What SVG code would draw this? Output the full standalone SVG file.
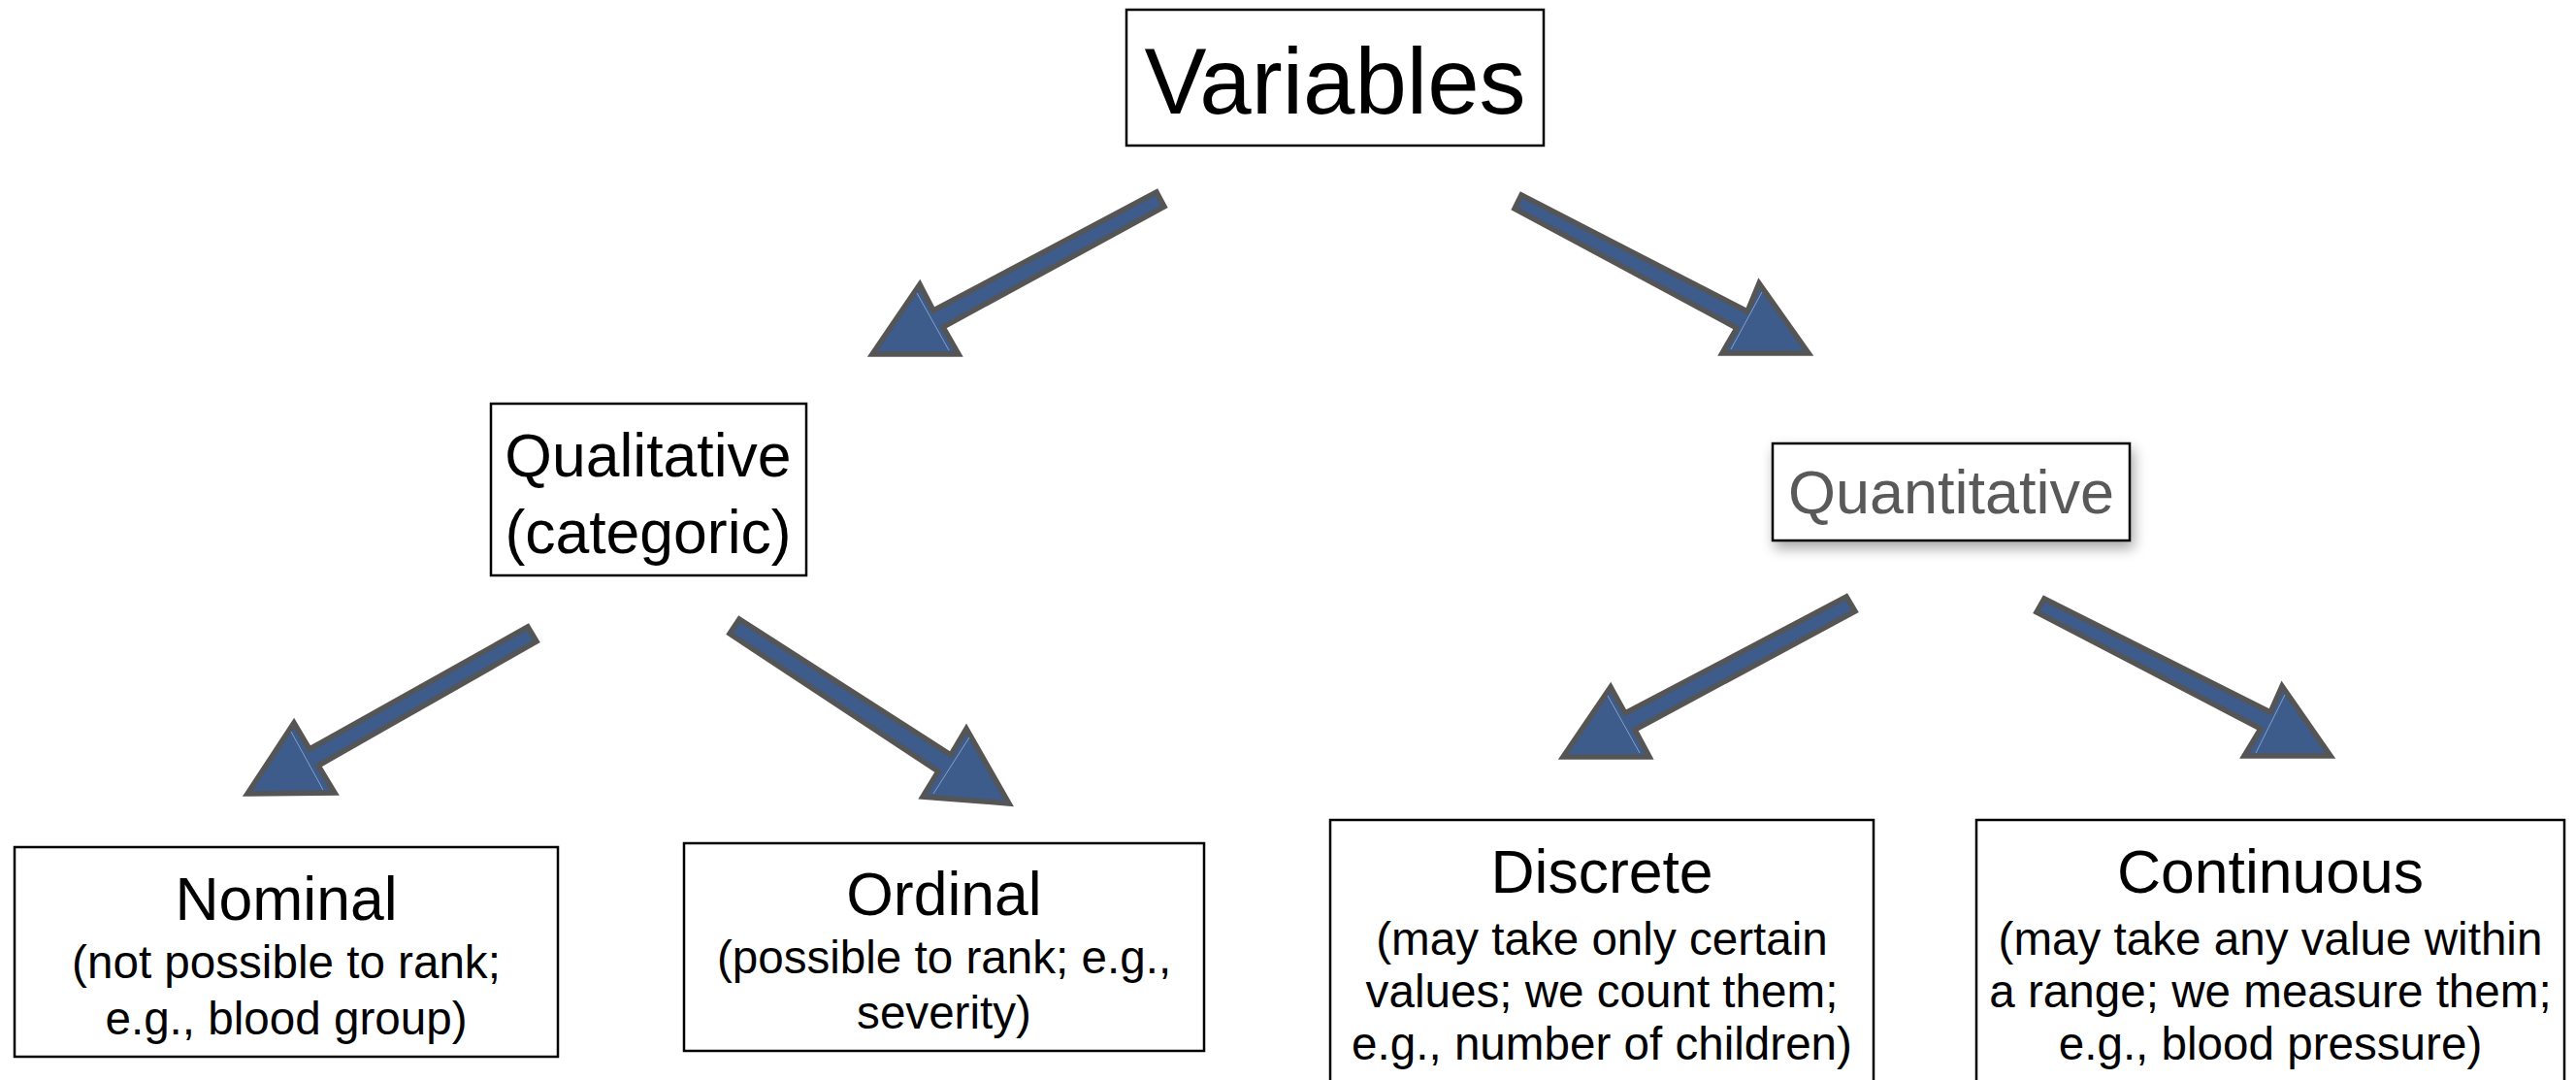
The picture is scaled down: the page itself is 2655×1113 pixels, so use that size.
<svg xmlns="http://www.w3.org/2000/svg" width="2655" height="1113" viewBox="0 0 2655 1113">
<defs>
<style>
.box{fill:#fff;stroke:#000;stroke-width:2.5}
.t{font-family:"Liberation Sans",Arial,sans-serif;fill:#000;text-anchor:middle}
.title{font-size:62.5px}
.sub{font-size:47.6px}
.arrow{fill:#3d5b8b;stroke:#555;stroke-width:5.5;stroke-linejoin:miter}
.seam{stroke:#a9bddc;stroke-width:1;opacity:0.7;fill:none}
</style>
<filter id="shadow" x="-20%" y="-30%" width="140%" height="170%">
<feGaussianBlur in="SourceAlpha" stdDeviation="7"/>
<feOffset dx="3" dy="7" result="b"/>
<feComponentTransfer><feFuncA type="linear" slope="0.35"/></feComponentTransfer>
<feMerge><feMergeNode/><feMergeNode in="SourceGraphic"/></feMerge>
</filter>
</defs>
<rect width="2655" height="1113" fill="#fff"/>

<g id="connectors">
<polygon class="arrow" points="1192,198 962,320 948,293 899,365 988,365 972,337 1200,213"/>
<line class="seam" x1="945" y1="302" x2="978" y2="361"/>
<polygon class="arrow" points="1568,201 1801,321 1813,292 1864,364 1775,364 1790,338 1561,215"/>
<line class="seam" x1="1816" y1="301" x2="1784" y2="360"/>
<polygon class="arrow" points="544,646 319,772 303,745 255,818 345,817 328,789 553,661"/>
<line class="seam" x1="300" y1="754" x2="333" y2="814"/>
<polygon class="arrow" points="762,638 980,778 996,751 1040,828 951,821 967,795 752,653"/>
<line class="seam" x1="999" y1="760" x2="962" y2="818"/>
<polygon class="arrow" points="1903,615 1675,735 1660,708 1611,780 1700,780 1685,752 1912,630"/>
<line class="seam" x1="1657" y1="717" x2="1690" y2="776"/>
<polygon class="arrow" points="2107,617 2340,734 2352,707 2402,779 2313,779 2330,751 2099,631"/>
<line class="seam" x1="2355" y1="716" x2="2325" y2="776"/>
</g>

<g id="variables">
<rect class="box" x="1161" y="10" width="430" height="140"/>
<text class="t" x="1376" y="117" font-size="96">Variables</text>
</g>

<g id="qualitative">
<rect class="box" x="506" y="416" width="325" height="177"/>
<text class="t title" x="668" y="491">Qualitative</text>
<text class="t title" x="668" y="570">(categoric)</text>
</g>

<g id="quantitative">
<rect class="box" x="1827" y="457" width="368" height="100" filter="url(#shadow)"/>
<text class="t title" x="2011" y="529" style="fill:#595959;font-size:63px">Quantitative</text>
</g>

<g id="nominal">
<rect class="box" x="15" y="873" width="560" height="216"/>
<text class="t title" x="295" y="948">Nominal</text>
<text class="t sub" x="295" y="1008">(not possible to rank;</text>
<text class="t sub" x="295" y="1066">e.g., blood group)</text>
</g>

<g id="ordinal">
<rect class="box" x="705" y="869" width="536" height="214"/>
<text class="t title" x="973" y="943">Ordinal</text>
<text class="t sub" x="973" y="1003">(possible to rank; e.g.,</text>
<text class="t sub" x="973" y="1060">severity)</text>
</g>

<g id="discrete">
<rect class="box" x="1371" y="845" width="560" height="290"/>
<text class="t title" x="1651" y="920">Discrete</text>
<text class="t sub" x="1651" y="984">(may take only certain</text>
<text class="t sub" x="1651" y="1038">values; we count them;</text>
<text class="t sub" x="1651" y="1092">e.g., number of children)</text>
</g>

<g id="continuous">
<rect class="box" x="2037" y="845" width="606" height="290"/>
<text class="t title" x="2340" y="920">Continuous</text>
<text class="t sub" x="2340" y="984">(may take any value within</text>
<text class="t sub" x="2340" y="1038">a range; we measure them;</text>
<text class="t sub" x="2340" y="1092">e.g., blood pressure)</text>
</g>
</svg>
